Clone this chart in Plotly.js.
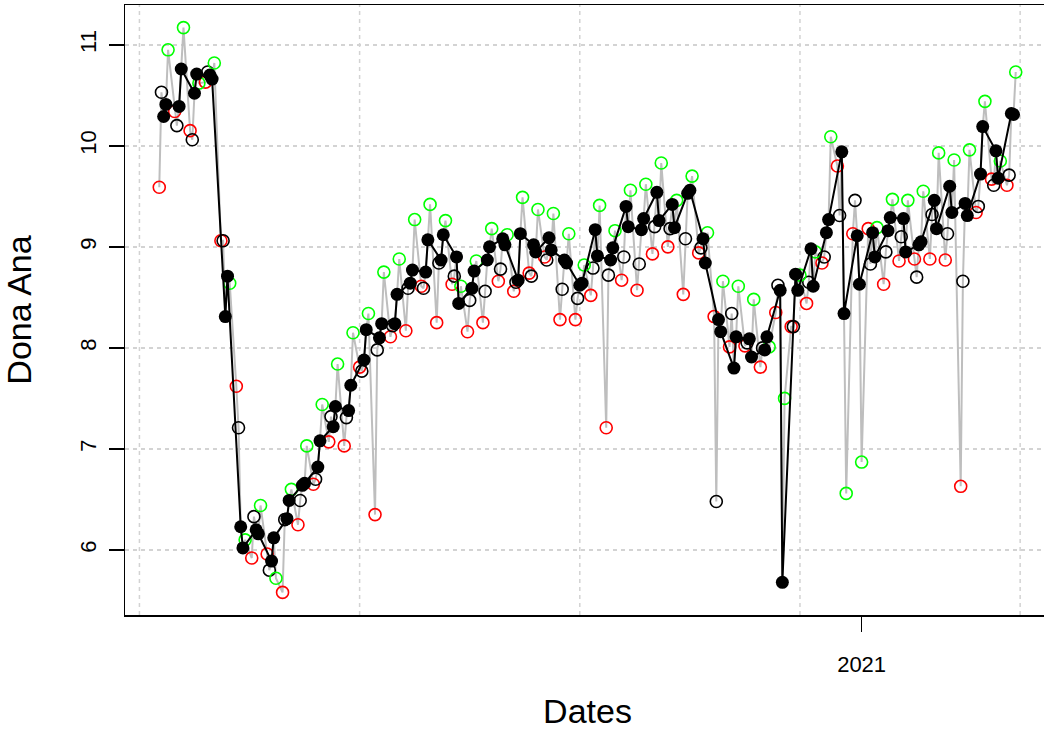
<!DOCTYPE html>
<html>
<head>
<meta charset="utf-8">
<script src="https://cdn.plot.ly/plotly-3.0.1.min.js"></script>
<style>
html,body{margin:0;padding:0;background:#fff;overflow:hidden;}
#chart{width:1050px;height:730px;}
</style>
</head>
<body>
<div id="chart"></div>
<script>
// ---- data (weekly groups of business days, Mon..Fri) ----
const firstMonday = '2020-02-17';
// Monday values (red open circles)
const redMon = [9.59,10.34,10.15,10.63,9.06,7.62,5.92,5.96,5.58,6.25,
  6.65,7.07,7.03,7.81,6.35,8.11,8.17,8.61,8.25,8.63,
  8.16,8.25,8.66,8.56,8.74,8.90,8.28,8.28,8.52,7.21,
  8.67,8.57,8.93,9.00,8.53,8.94,8.31,8.01,8.02,7.81,
  8.35,8.21,8.44,8.84,9.80,9.13,9.18,8.63,8.86,8.88,
  8.88,8.87,6.63,9.34,9.67,9.61];
// Tuesday values (black open circles)
const openTue = [10.53,10.20,10.06,10.73,9.06,7.21,6.33,5.80,6.30,6.49,
  6.70,7.32,7.31,7.77,7.98,8.22,8.59,8.59,8.84,8.71,
  8.47,8.56,8.78,8.65,8.71,8.87,8.58,8.49,8.79,8.72,
  8.90,8.83,9.20,9.18,9.08,8.99,6.48,8.34,8.05,8.00,
  8.62,8.21,8.65,8.90,9.31,9.46,8.83,8.95,9.10,8.70,
  9.32,9.13,8.66,9.40,9.61,9.71];
// Wednesday values (black filled points)
const filledWed = [10.29,10.39,10.52,10.70,8.31,6.23,6.20,5.89,6.31,6.64,
  6.82,7.22,7.38,7.88,8.10,8.24,8.64,8.75,8.87,8.90,
  8.59,8.87,9.08,8.67,9.02,9.09,8.87,8.62,9.17,8.87,
  9.40,9.17,9.54,9.42,9.53,9.08,8.28,7.80,8.09,7.98,
  8.57,8.73,8.98,9.14,9.94,9.11,9.14,9.16,9.28,9.02,
  9.46,9.60,9.43,9.72,9.95,10.32];
// Thursday values (black filled points)
const filledThu = [10.41,10.76,10.71,10.66,8.71,6.02,6.16,6.12,6.49,6.66,
  7.08,7.42,7.63,8.18,8.24,8.53,8.77,9.07,9.12,8.44,
  8.76,9.00,9.02,9.13,8.95,8.97,8.84,8.64,8.91,8.99,
  9.20,9.28,9.26,9.19,9.56,8.84,8.16,8.11,7.91,8.11,
  5.68,8.57,8.61,9.27,8.34,8.63,8.90,9.29,8.95,9.05,
  9.18,9.34,9.31,10.19,9.68,10.31];
// Friday values (green open circles)
const greenFri = [10.95,11.17,10.62,10.82,8.64,6.10,6.44,5.72,6.60,7.03,
  7.44,7.84,8.15,8.34,8.75,8.88,9.27,9.42,9.26,8.61,
  8.86,9.18,9.12,9.49,9.37,9.33,9.13,8.82,9.41,9.16,
  9.56,9.62,9.83,9.46,9.70,9.14,8.66,8.61,8.48,8.01,
  7.50,8.72,8.95,10.09,6.56,6.87,9.19,9.47,9.46,9.55,
  9.93,9.86,9.96,10.44,9.85,10.73];

const yTickVals = [6,7,8,9,10,11];
const xTickVals = ['2021-01-01'];
const xTickText = ['2021'];
const gridDates = ['2020-02-08','2020-05-18','2020-08-26','2020-12-04','2021-03-14'];

// ---- build dated series ----
const DAY = 86400000;
const t0 = Date.parse(firstMonday);
function fmt(ms){ return new Date(ms).toISOString().replace('T',' ').replace('Z',''); }
function dateOf(week, dow){ return fmt(t0 + (week*7 + dow)*DAY); }

const allX=[], allY=[], redX=[], openX=[], greenX=[], filledX=[], filledY=[];
for (let w=0; w<redMon.length; w++){
  const days = [[0,redMon[w]],[1,openTue[w]],[2,filledWed[w]],[3,filledThu[w]],[4,greenFri[w]]];
  days.forEach(([d,v])=>{ allX.push(dateOf(w,d)); allY.push(v); });
  redX.push(dateOf(w,0)); openX.push(dateOf(w,1)); greenX.push(dateOf(w,4));
  filledX.push(dateOf(w,2)); filledY.push(filledWed[w]);
  filledX.push(dateOf(w,3)); filledY.push(filledThu[w]);
}
const firstMs = t0, lastMs = t0 + ((redMon.length-1)*7 + 4)*DAY;
const xpad = 0.04*(lastMs-firstMs);
const ymin = Math.min(...allY), ymax = Math.max(...allY);
const ypad = 0.04*(ymax-ymin);

const openMarker = (c)=>({symbol:'circle-open', size:12, color:c, line:{width:1.6, color:c}});

const traces = [
  {x:allX, y:allY, type:'scatter', mode:'lines', line:{color:'#BEBEBE', width:2}, hoverinfo:'skip'},
  {x:redX, y:redMon, type:'scatter', mode:'markers', marker:openMarker('#FF0000')},
  {x:openX, y:openTue, type:'scatter', mode:'markers', marker:openMarker('#000000')},
  {x:greenX, y:greenFri, type:'scatter', mode:'markers', marker:openMarker('#00FF00')},
  {x:filledX, y:filledY, type:'scatter', mode:'lines+markers', line:{color:'#000000', width:2},
   marker:{symbol:'circle', size:13, color:'#000000'}}
];

const shapes = gridDates.map(d=>({type:'line', xref:'x', yref:'paper', x0:d, x1:d, y0:0, y1:1,
  line:{color:'#D3D3D3', width:1.5, dash:'4px,4px'}, layer:'below'}));

const FONT = 'Liberation Sans, Arial, sans-serif';
const layout = {
  width:1050, height:730,
  margin:{l:125, r:0, t:5, b:115},
  paper_bgcolor:'#fff', plot_bgcolor:'#fff',
  showlegend:false,
  font:{family:FONT, color:'#000'},
  shapes:shapes,
  xaxis:{type:'date', range:[fmt(firstMs-xpad), fmt(lastMs+xpad)],
    tickmode:'array', tickvals:xTickVals, ticktext:xTickText,
    ticks:'outside', ticklen:15, tickwidth:1.5, tickcolor:'#000',
    showgrid:false, zeroline:false, showline:true, linecolor:'#000', linewidth:1.5, mirror:true,
    tickfont:{size:22, family:FONT}, ticklabelstandoff:14,
    title:{text:'Dates', font:{size:34, family:FONT}, standoff:28}, automargin:false},
  yaxis:{range:[ymin-ypad, ymax+ypad], tickmode:'array', tickvals:yTickVals,
    ticks:'outside', ticklen:15, tickwidth:1.5, tickcolor:'#000', tickangle:-90,
    showgrid:true, gridcolor:'#D3D3D3', gridwidth:1.5, griddash:'4px,4px',
    zeroline:false, showline:true, linecolor:'#000', linewidth:1.5, mirror:true,
    tickfont:{size:22, family:FONT}, ticklabelstandoff:4,
    title:{text:'Dona Ana', font:{size:34, family:FONT}, standoff:40}, automargin:false}
};
Plotly.newPlot('chart', traces, layout, {displayModeBar:false, staticPlot:true});
</script>
</body>
</html>
